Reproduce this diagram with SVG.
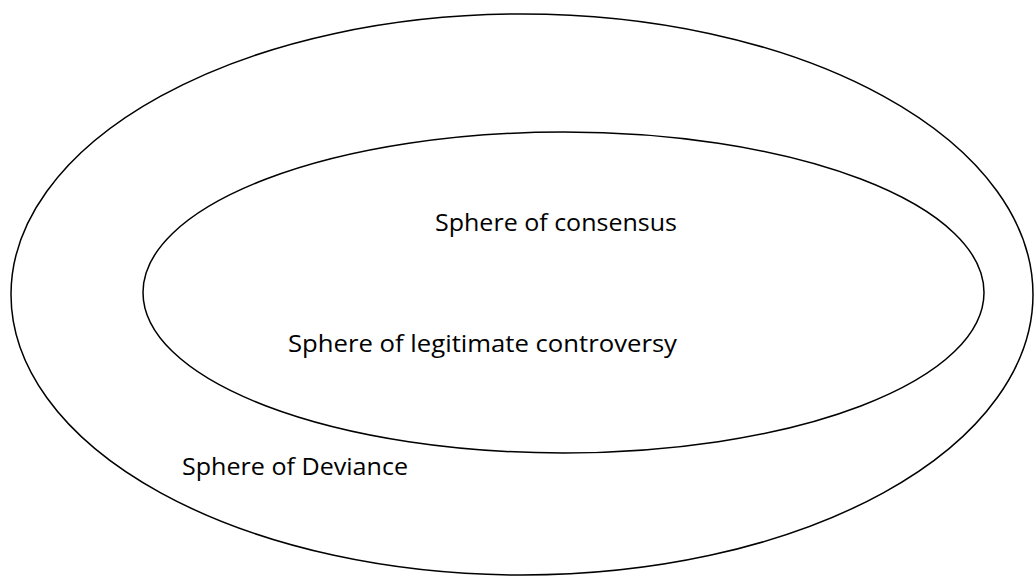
<svg xmlns="http://www.w3.org/2000/svg" width="1034" height="576" viewBox="0 0 1034 576">
<style>
.sphere{fill:none;stroke:#000;stroke-width:1.5}
.lbl{font-family:"Open Sans","Noto Sans","Liberation Sans",sans-serif;font-size:24px;fill:#000}
</style>
<rect width="1034" height="576" fill="#fff"/>
<g id="deviance">
<ellipse class="sphere" cx="522" cy="294.5" rx="511" ry="280.5"/>
<text class="lbl" x="182" y="475" textLength="226" lengthAdjust="spacingAndGlyphs">Sphere of Deviance</text>
</g>
<g id="controversy">
<ellipse class="sphere" cx="563.5" cy="292.5" rx="420.5" ry="160.5"/>
<text class="lbl" x="288" y="352" textLength="389" lengthAdjust="spacingAndGlyphs">Sphere of legitimate controversy</text>
</g>
<g id="consensus">
<text class="lbl" x="435" y="231" textLength="242" lengthAdjust="spacingAndGlyphs">Sphere of consensus</text>
</g>
<g id="connectors"/>
</svg>
